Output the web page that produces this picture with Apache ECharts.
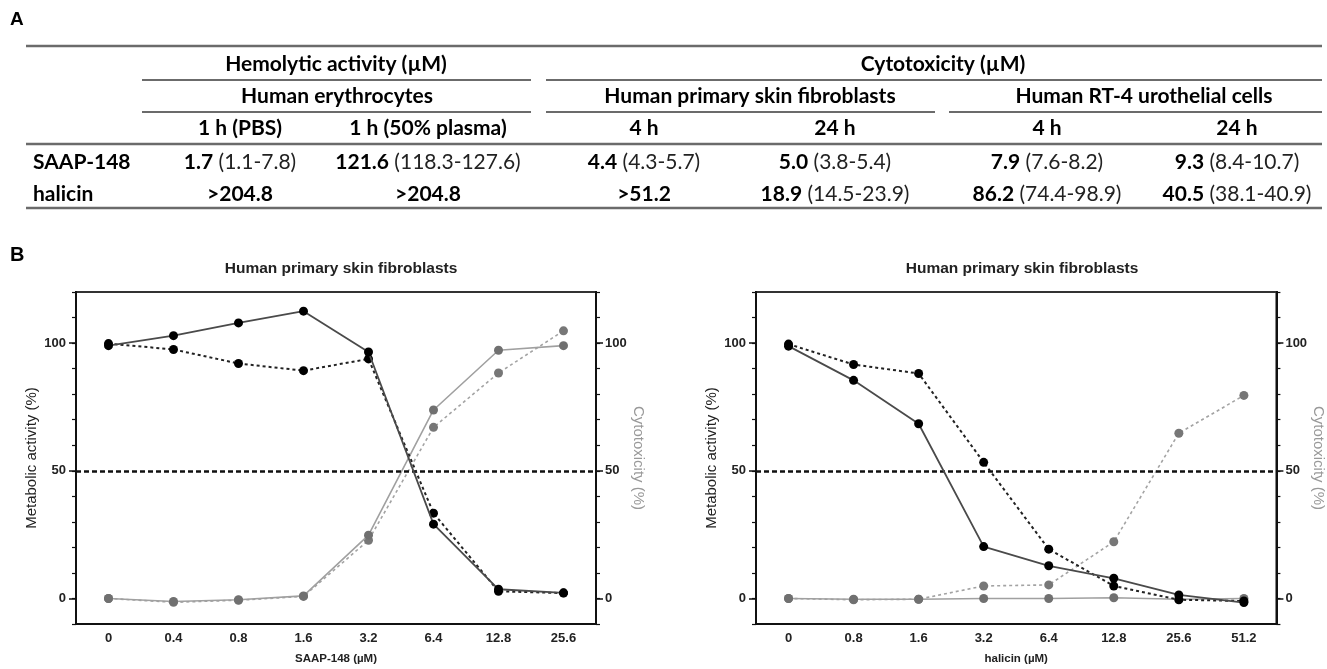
<!DOCTYPE html>
<html>
<head>
<meta charset="utf-8">
<script src="https://cdn.jsdelivr.net/npm/echarts@6/dist/echarts.min.js"></script>
<style>
html,body{margin:0;padding:0;background:#fff;}
#main{width:1327px;height:669px;}
</style>
</head>
<body>
<div id="main"></div>
<script>
// ---------- Table data (panel A) ----------
const groupHeaders = ['Hemolytic activity (µM)', 'Cytotoxicity (µM)'];
const cellHeaders = ['Human erythrocytes', 'Human primary skin fibroblasts', 'Human RT-4 urothelial cells'];
const timeHeaders = ['1 h (PBS)', '1 h (50% plasma)', '4 h', '24 h', '4 h', '24 h'];
const compounds = ['SAAP-148', 'halicin'];
const saapValues = ['1.7', '121.6', '4.4', '5.0', '7.9', '9.3'];
const saapRanges = ['(1.1-7.8)', '(118.3-127.6)', '(4.3-5.7)', '(3.8-5.4)', '(7.6-8.2)', '(8.4-10.7)'];
const halicinValues = ['>204.8', '>204.8', '>51.2', '18.9', '86.2', '40.5'];
const halicinRanges = ['', '', '', '(14.5-23.9)', '(74.4-98.9)', '(38.1-40.9)'];

// ---------- Chart data (panel B) ----------
const chartTitles = ['Human primary skin fibroblasts', 'Human primary skin fibroblasts'];
const xNames = ['SAAP-148 (µM)', 'halicin (µM)'];
const saapConc = ['0', '0.4', '0.8', '1.6', '3.2', '6.4', '12.8', '25.6'];
const halicinConc = ['0', '0.8', '1.6', '3.2', '6.4', '12.8', '25.6', '51.2'];
const saapMetabolic4h = [99, 102.9, 107.9, 112.5, 96.5, 29.1, 3.6, 2.2];
const saapMetabolic24h = [99.8, 97.5, 92, 89.2, 93.8, 33.4, 2.8, 2.1];
const saapCytotox4h = [0, -1.2, -0.5, 1, 24.8, 73.8, 97.2, 99];
const saapCytotox24h = [0, -1.5, -0.7, 0.8, 22.8, 67, 88.3, 104.8];
const halicinMetabolic4h = [98.8, 85.4, 68.4, 20.3, 12.8, 7.9, 1.4, -1.6];
const halicinMetabolic24h = [99.6, 91.6, 88.1, 53.3, 19.3, 4.9, -0.5, -1.0];
const halicinCytotox4h = [0, -0.3, -0.3, 0, 0, 0.3, -0.3, 0];
const halicinCytotox24h = [0, -0.5, -0.3, 4.9, 5.3, 22.2, 64.7, 79.5];
const yLabelValues = [0, 50, 100];
const thresholdValue = 50;
const yLeftName = 'Metabolic activity (%)';
const yRightName = 'Cytotoxicity (%)';

// ---------- Layout ----------
const TF = 'Lato, "Open Sans", sans-serif';
const CF = '"Liberation Sans", Arial, sans-serif';
const CFN = '"Liberation Sans Narrow", "Liberation Sans", Arial, sans-serif';
const colX = [240, 428, 644, 835, 1047, 1237];
const rowY = [64, 96, 128, 162, 194];
const tableLeft = 26, tableRight = 1322;
const ruleColor = '#6b6b6b';
const TS = 21;

const graphics = [];
function hline(x1, x2, y, w) {
  graphics.push({type: 'line', silent: true, shape: {x1: x1, y1: y, x2: x2, y2: y},
    style: {stroke: ruleColor, lineWidth: w}});
}
function txt(text, x, y, font, align, rich) {
  const st = {text: text, x: x, y: y, align: align || 'center', verticalAlign: 'middle', font: font, fill: '#000'};
  if (rich) st.rich = rich;
  graphics.push({type: 'text', silent: true, style: st});
}
// panel letters
txt('A', 10, 20, 'bold 19px ' + CF, 'left');
txt('B', 10, 255, 'bold 20px ' + CF, 'left');
// rules
hline(tableLeft, tableRight, 46, 2.5);
hline(142, 531, 80, 2);
hline(546, tableRight, 80, 2);
hline(142, 531, 112, 2);
hline(546, 935, 112, 2);
hline(949, tableRight, 112, 2);
hline(tableLeft, tableRight, 144, 2.5);
hline(tableLeft, tableRight, 208, 2.5);
// headers
const HB = 'bold ' + TS + 'px ' + TF;
txt(groupHeaders[0], 336, rowY[0], HB);
txt(groupHeaders[1], 943, rowY[0], HB);
txt(cellHeaders[0], 337, rowY[1], HB);
txt(cellHeaders[1], 750, rowY[1], HB);
txt(cellHeaders[2], 1144, rowY[1], HB);
timeHeaders.forEach((t, i) => txt(t, colX[i], rowY[2], HB));
// body
const rich = {
  b: {fontFamily: TF, fontSize: TS, fontWeight: 'bold', fill: '#000'},
  n: {fontFamily: TF, fontSize: TS, fontWeight: 'normal', fill: '#222'}
};
txt(compounds[0], 33, rowY[3], HB, 'left');
txt(compounds[1], 33, rowY[4], HB, 'left');
saapValues.forEach((v, i) => {
  txt('{b|' + v + '}' + (saapRanges[i] ? '{n| ' + saapRanges[i] + '}' : ''), colX[i], rowY[3], HB, 'center', rich);
});
halicinValues.forEach((v, i) => {
  txt('{b|' + v + '}' + (halicinRanges[i] ? '{n| ' + halicinRanges[i] + '}' : ''), colX[i], rowY[4], HB, 'center', rich);
});

// ---------- Charts ----------
const grids = [
  {left: 76, width: 520, top: 292, height: 332},
  {left: 756, width: 522, top: 292, height: 332}
];
const yMin = -10, yMax = 120;

const xAxes = [], yAxes = [], series = [], titles = [];
[saapConc, halicinConc].forEach((cats, gi) => {
  titles.push({
    text: chartTitles[gi], left: grids[gi].left + grids[gi].width / 2, top: 256, textAlign: 'center',
    textStyle: {fontFamily: CF, fontSize: 15.5, fontWeight: 'bold', color: '#222'}
  });
  xAxes.push({
    type: 'category', gridIndex: gi, data: cats, boundaryGap: true,
    name: xNames[gi], nameLocation: 'middle', nameGap: 29,
    nameTextStyle: {fontFamily: CFN, fontSize: 11.5, fontWeight: 'bold', color: '#222'},
    axisLine: {onZero: false, lineStyle: {color: '#111', width: 2}},
    axisTick: {alignWithLabel: true, length: 5, lineStyle: {color: '#111', width: 1.5}},
    axisLabel: {fontFamily: CFN, fontSize: 13, fontWeight: 'bold', color: '#222', margin: 8},
    splitLine: {show: false}
  });
  const base = {
    type: 'value', gridIndex: gi, min: yMin, max: yMax, splitLine: {show: false},
    axisLine: {show: true, onZero: false, lineStyle: {color: '#111', width: 2}}
  };
  yAxes.push(Object.assign({}, base, {
    position: 'left', name: yLeftName, nameLocation: 'middle', nameGap: 37,
    nameTextStyle: {fontFamily: CF, fontSize: 15, color: '#222'},
    axisTick: {show: true, length: 7, customValues: yLabelValues, lineStyle: {color: '#111', width: 1.5}},
    axisLabel: {customValues: yLabelValues, fontFamily: CFN, fontSize: 13, fontWeight: 'bold', color: '#222', margin: 10}
  }));
  yAxes.push(Object.assign({}, base, {
    position: 'right', name: yRightName, nameLocation: 'middle', nameGap: 33, nameRotate: -90,
    nameTextStyle: {fontFamily: CF, fontSize: 15, color: '#999'},
    axisTick: {show: true, length: 7, customValues: yLabelValues, lineStyle: {color: '#111', width: 1.5}},
    axisLabel: {customValues: yLabelValues, fontFamily: CFN, fontSize: 13, fontWeight: 'bold', color: '#222', margin: 9}
  }));
  ['left', 'right'].forEach(pos => {
    yAxes.push(Object.assign({}, base, {
      position: pos, interval: 10,
      axisTick: {show: true, length: 4, lineStyle: {color: '#111', width: 1.2}},
      axisLabel: {show: false}
    }));
  });
});

function mkSeries(gi, data, kind) {
  const yIdx = gi * 4;
  const styles = {
    met4h: {line: {color: '#4a4a4a', width: 1.8, type: 'solid'}, item: '#000', z: 6},
    met24h: {line: {color: '#222', width: 2, type: [3, 3]}, item: '#000', z: 5},
    cyt4h: {line: {color: '#a0a0a0', width: 1.6, type: 'solid'}, item: '#707070', z: 4},
    cyt24h: {line: {color: '#a3a3a3', width: 1.6, type: [3, 3]}, item: '#777', z: 3}
  };
  const s = styles[kind];
  return {
    type: 'line', xAxisIndex: gi, yAxisIndex: yIdx, data: data, z: s.z,
    symbol: 'circle', symbolSize: 9, showSymbol: true, silent: true,
    lineStyle: s.line, itemStyle: {color: s.item}, animation: false
  };
}
series.push(mkSeries(0, saapCytotox24h, 'cyt24h'));
series.push(mkSeries(0, saapCytotox4h, 'cyt4h'));
series.push(mkSeries(0, saapMetabolic24h, 'met24h'));
series.push(mkSeries(0, saapMetabolic4h, 'met4h'));
series.push(mkSeries(1, halicinCytotox24h, 'cyt24h'));
series.push(mkSeries(1, halicinCytotox4h, 'cyt4h'));
series.push(mkSeries(1, halicinMetabolic24h, 'met24h'));
series.push(mkSeries(1, halicinMetabolic4h, 'met4h'));
[0, 4].forEach(si => {
  series[si].markLine = {
    silent: true, symbol: 'none', label: {show: false},
    lineStyle: {color: '#111', width: 2.5, type: [5, 3]},
    data: [{yAxis: thresholdValue}]
  };
});

const chart = echarts.init(document.getElementById('main'), null, {renderer: 'canvas'});
chart.setOption({
  backgroundColor: '#fff',
  animation: false,
  title: titles,
  grid: grids.map(g => Object.assign({show: true, borderColor: '#333', borderWidth: 2, backgroundColor: 'transparent'}, g)),
  xAxis: xAxes,
  yAxis: yAxes,
  series: series,
  graphic: graphics
});
</script>
</body>
</html>
